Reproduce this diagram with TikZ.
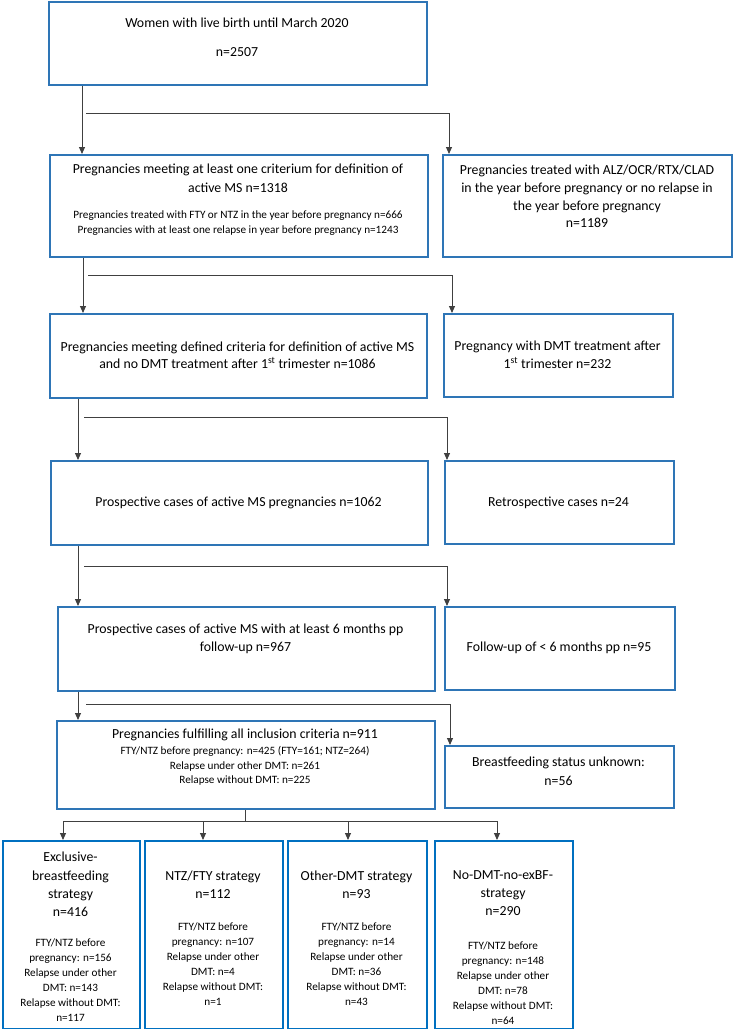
\documentclass[tikz,border=0pt]{standalone}
\usepackage{fontspec}
\setmainfont{Carlito}
\usetikzlibrary{arrows.meta}
\definecolor{boxblue}{RGB}{46,117,182}
\definecolor{boxblue2}{RGB}{0,112,192}
\definecolor{linegray}{RGB}{64,64,64}
\begin{document}
\begin{tikzpicture}[x=1pt,y=-1pt,
 box/.style={draw=boxblue,line width=2pt,inner sep=0pt,anchor=north west},
 boxb/.style={box,draw=boxblue2},
 txt/.style={font=\fontsize{13.8}{18.5}\selectfont,align=center,inner sep=0pt},
 small/.style={font=\fontsize{11.2}{15}\selectfont,align=center,inner sep=0pt},
 btitle/.style={font=\fontsize{13.8}{18.3}\selectfont,align=center,inner sep=0pt},
 bdet/.style={font=\fontsize{11.2}{15}\selectfont,align=center,inner sep=0pt},
 conn/.style={draw=linegray,line width=0.9pt},
 arr/.style={conn,-{Triangle[width=6pt,length=7pt]}}]

\useasboundingbox (0,0) rectangle (733,1029);

% boxes
\node[box,minimum width=378pt,minimum height=83pt] (b1) at (48,1) {};
\node[box,minimum width=378pt,minimum height=102pt] (b2) at (49,154) {};
\node[box,minimum width=289pt,minimum height=102pt] (b2r) at (442,154) {};
\node[box,minimum width=377pt,minimum height=84pt] (b3) at (49,313) {};
\node[box,minimum width=229pt,minimum height=83pt] (b3r) at (443,313) {};
\node[box,minimum width=377pt,minimum height=84pt] (b4) at (50,460) {};
\node[box,minimum width=229pt,minimum height=83pt] (b4r) at (444,460) {};
\node[box,minimum width=377pt,minimum height=84pt] (b5) at (57,606) {};
\node[box,minimum width=230pt,minimum height=83pt] (b5r) at (444,606) {};
\node[box,minimum width=378pt,minimum height=88pt] (b6) at (56,720) {};
\node[box,minimum width=229pt,minimum height=62pt] (b6r) at (444,745) {};
\node[boxb,minimum width=137pt,minimum height=188pt] (bA) at (2,840) {};
\node[boxb,minimum width=138pt,minimum height=188pt] (bB) at (144,840) {};
\node[boxb,minimum width=139pt,minimum height=188pt] (bC) at (287,840) {};
\node[boxb,minimum width=138pt,minimum height=188pt] (bD) at (434,840) {};

% texts
\node[txt] (t1a) at (237,23) {Women with live birth until March 2020};
\node[txt] (t1b) at (237,52) {n=2507};
\node[txt] (t2a) at (238,178.5) {Pregnancies meeting at least one criterium for definition of\\active MS n=1318};
\node[small] (t2b) at (238,223.5) {Pregnancies treated with FTY or NTZ in the year before pregnancy n=666\\Pregnancies with at least one relapse in year before pregnancy n=1243};
\node[txt,font=\fontsize{13.8}{17.8}\selectfont] (t2r) at (587,196.5) {Pregnancies treated with ALZ/OCR/RTX/CLAD\\in the year before pregnancy or no relapse in\\the year before pregnancy\\n=1189};
\node[txt,font=\fontsize{13.8}{17.5}\selectfont] (t3) at (237.5,355.5) {Pregnancies meeting defined criteria for definition of active MS\\and no DMT treatment after 1\textsuperscript{st} trimester n=1086};
\node[txt,font=\fontsize{13.8}{17.5}\selectfont] (t3r) at (557.5,355) {Pregnancy with DMT treatment after\\1\textsuperscript{st} trimester n=232};
\node[txt] (t4) at (238.5,503) {Prospective cases of active MS pregnancies n=1062};
\node[txt] (t4r) at (558.5,503) {Retrospective cases n=24};
\node[txt] (t5) at (245.5,639) {Prospective cases of active MS with at least 6 months pp\\follow-up n=967};
\node[txt] (t5r) at (559,648) {Follow-up of < 6 months pp n=95};
\node[txt] (t6a) at (245,735) {Pregnancies fulfilling all inclusion criteria n=911};
\node[small,font=\fontsize{11.2}{14.5}\selectfont] (t6b) at (245,766) {FTY/NTZ before pregnancy: n=425 (FTY=161; NTZ=264)\\Relapse under other DMT: n=261\\Relapse without DMT: n=225};
\node[txt] (t6r) at (558.5,771) {Breastfeeding status unknown:\\n=56};

\node[btitle] (tAa) at (70.5,884.5) {Exclusive-\\breastfeeding\\strategy\\n=416};
\node[bdet] (tAb) at (70.5,980) {FTY/NTZ before\\pregnancy: n=156\\Relapse under other\\DMT: n=143\\Relapse without DMT:\\n=117};
\node[btitle] (tBa) at (213,884.5) {NTZ/FTY strategy\\n=112};
\node[bdet] (tBb) at (213,964.5) {FTY/NTZ before\\pregnancy: n=107\\Relapse under other\\DMT: n=4\\Relapse without DMT:\\n=1};
\node[btitle] (tCa) at (356.5,884.5) {Other-DMT strategy\\n=93};
\node[bdet] (tCb) at (356.5,964.5) {FTY/NTZ before\\pregnancy: n=14\\Relapse under other\\DMT: n=36\\Relapse without DMT:\\n=43};
\node[btitle] (tDa) at (503,893) {No-DMT-no-exBF-\\strategy\\n=290};
\node[bdet] (tDb) at (503,983) {FTY/NTZ before\\pregnancy: n=148\\Relapse under other\\DMT: n=78\\Relapse without DMT:\\n=64};

% connector coordinates
\coordinate (v1) at (82,0);
\coordinate (v2) at (83,0);
\coordinate (v3) at (78,0);
\coordinate (h1) at (86,113);  \coordinate (e1) at (449,0);
\coordinate (h2) at (88,275);  \coordinate (e2) at (452,0);
\coordinate (h3) at (84,417);  \coordinate (e3) at (447,0);
\coordinate (h4) at (84,566);
\coordinate (h5) at (86,704);  \coordinate (e5) at (450,0);
\coordinate (split) at (245,821);
\coordinate (ax) at (63,0);
\coordinate (bx) at (203,0);
\coordinate (cx) at (348,0);
\coordinate (dx) at (497,0);

% connectors
\draw[arr] (b1.south -| v1) -- (b2.north -| v1);
\draw[arr] (h1) -| (b2r.north -| e1);
\draw[arr] (b2.south -| v2) -- (b3.north -| v2);
\draw[arr] (h2) -| (b3r.north -| e2);
\draw[arr] (b3.south -| v3) -- (b4.north -| v3);
\draw[arr] (h3) -| (b4r.north -| e3);
\draw[arr] (b4.south -| v3) -- (b5.north -| v3);
\draw[arr] (h4) -| (b5r.north -| e3);
\draw[arr] (b5.south -| v3) -- (b6.north -| v3);
\draw[arr] (h5) -| (b6r.north -| e5);
\draw[conn] (b6.south -| split) -- (split);
\draw[arr] (split) -| (bA.north -| ax);
\draw[arr] (split) -| (bB.north -| bx);
\draw[arr] (split) -| (bC.north -| cx);
\draw[arr] (split) -| (bD.north -| dx);
\end{tikzpicture}
\end{document}
